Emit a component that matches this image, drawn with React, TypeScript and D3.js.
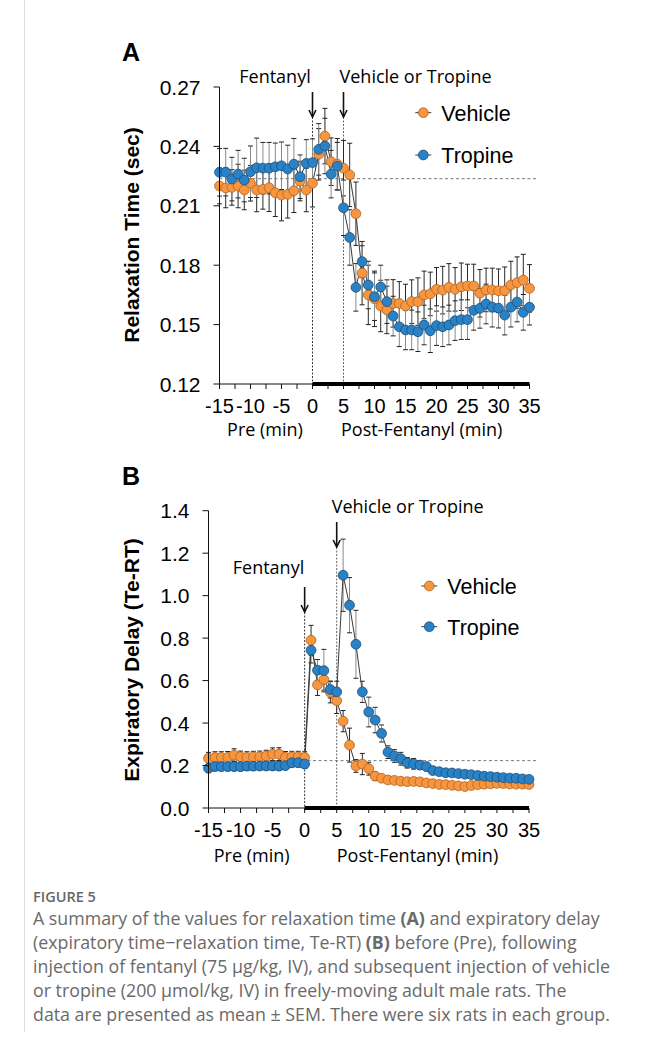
import React from 'react';
import * as d3 from 'd3';

// ---------- DATA ----------
const minutes = [-15, -14, -13, -12, -11, -10, -9, -8, -7, -6, -5, -4, -3, -2, -1, 0,
  1, 2, 3, 4, 5, 6, 7, 8, 9, 10, 11, 12, 13, 14, 15, 16, 17, 18, 19, 20,
  21, 22, 23, 24, 25, 26, 27, 28, 29, 30, 31, 32, 33, 34, 35];

// Panel A: Relaxation time (sec)
const relaxVehicle = [0.220, 0.219, 0.2193, 0.220, 0.218, 0.2214, 0.218, 0.2183, 0.2191, 0.2166, 0.2154, 0.2158, 0.2176, 0.2225, 0.218, 0.2214,
  0.236, 0.2452, 0.2323, 0.231, 0.229, 0.2256, 0.206, 0.176, 0.165, 0.163, 0.1594, 0.1574, 0.1607, 0.1607, 0.1594, 0.1616, 0.1616, 0.165, 0.1655, 0.1678,
  0.1674, 0.1688, 0.1678, 0.1691, 0.1695, 0.1695, 0.1658, 0.1675, 0.1675, 0.1671, 0.1671, 0.170, 0.1712, 0.1725, 0.1683];
const relaxVehicleSem = [0.009, 0.010, 0.009, 0.011, 0.010, 0.009, 0.011, 0.010, 0.012, 0.012, 0.013, 0.012, 0.011, 0.010, 0.011, 0.012,
  0.013, 0.014, 0.012, 0.013, 0.014, 0.016, 0.016, 0.016, 0.015, 0.014, 0.013, 0.012, 0.012, 0.011, 0.011, 0.011, 0.012, 0.012, 0.011, 0.011,
  0.012, 0.012, 0.011, 0.012, 0.011, 0.011, 0.012, 0.011, 0.011, 0.011, 0.012, 0.012, 0.013, 0.013, 0.012];
const relaxTropine = [0.2269, 0.227, 0.2235, 0.226, 0.223, 0.2272, 0.2292, 0.229, 0.229, 0.2297, 0.2302, 0.2286, 0.231, 0.2247, 0.2314, 0.2318,
  0.2385, 0.2402, 0.226, 0.230, 0.209, 0.194, 0.1688, 0.1818, 0.170, 0.1641, 0.169, 0.1616, 0.1543, 0.1489, 0.1473, 0.1473, 0.1464, 0.1498, 0.1469, 0.1495,
  0.1489, 0.1498, 0.152, 0.1525, 0.1525, 0.1572, 0.1582, 0.1604, 0.1588, 0.1583, 0.1548, 0.1588, 0.1614, 0.1562, 0.1588];
const relaxTropineSem = [0.012, 0.012, 0.011, 0.012, 0.011, 0.013, 0.015, 0.013, 0.013, 0.012, 0.012, 0.012, 0.013, 0.011, 0.012, 0.012,
  0.013, 0.014, 0.012, 0.012, 0.014, 0.014, 0.012, 0.008, 0.012, 0.012, 0.011, 0.011, 0.010, 0.010, 0.010, 0.010, 0.010, 0.010, 0.011, 0.010,
  0.010, 0.010, 0.010, 0.010, 0.010, 0.010, 0.010, 0.010, 0.010, 0.010, 0.010, 0.010, 0.010, 0.009, 0.009];

// Panel B: Expiratory delay (Te-RT)
const delayVehicle = [0.234, 0.238, 0.238, 0.238, 0.249, 0.241, 0.238, 0.241, 0.241, 0.245, 0.253, 0.254, 0.238, 0.241, 0.241, 0.238,
  0.790, 0.580, 0.605, 0.545, 0.505, 0.409, 0.296, 0.198, 0.207, 0.185, 0.150, 0.140, 0.132, 0.130, 0.126, 0.124, 0.125, 0.123, 0.118, 0.115,
  0.111, 0.110, 0.107, 0.104, 0.101, 0.106, 0.110, 0.112, 0.114, 0.116, 0.115, 0.113, 0.112, 0.112, 0.111];
const delayVehicleSem = [0.028, 0.027, 0.027, 0.028, 0.030, 0.027, 0.027, 0.026, 0.027, 0.027, 0.030, 0.030, 0.028, 0.026, 0.026, 0.027,
  0.070, 0.050, 0.050, 0.050, 0.060, 0.050, 0.080, 0.030, 0.050, 0.030, 0.020, 0.012, 0.012, 0.012, 0.012, 0.012, 0.012, 0.012, 0.012, 0.012,
  0.012, 0.012, 0.012, 0.012, 0.012, 0.012, 0.012, 0.012, 0.012, 0.012, 0.012, 0.012, 0.012, 0.012, 0.012];
const delayTropine = [0.187, 0.195, 0.195, 0.195, 0.195, 0.195, 0.197, 0.197, 0.198, 0.198, 0.198, 0.197, 0.200, 0.213, 0.213, 0.207,
  0.743, 0.649, 0.647, 0.558, 0.547, 1.096, 0.955, 0.771, 0.547, 0.452, 0.414, 0.351, 0.263, 0.245, 0.232, 0.213, 0.208, 0.202, 0.195, 0.176,
  0.171, 0.166, 0.165, 0.162, 0.159, 0.157, 0.153, 0.150, 0.148, 0.145, 0.143, 0.141, 0.140, 0.137, 0.135];
const delayTropineSem = [0.020, 0.020, 0.020, 0.020, 0.020, 0.020, 0.020, 0.020, 0.020, 0.020, 0.020, 0.020, 0.020, 0.020, 0.020, 0.020,
  0.060, 0.050, 0.100, 0.040, 0.050, 0.170, 0.130, 0.160, 0.050, 0.070, 0.060, 0.040, 0.030, 0.030, 0.030, 0.025, 0.025, 0.020, 0.020, 0.015,
  0.012, 0.012, 0.012, 0.012, 0.012, 0.012, 0.012, 0.012, 0.012, 0.012, 0.012, 0.012, 0.012, 0.012, 0.012];

const xTickValues = [-15, -10, -5, 0, 5, 10, 15, 20, 25, 30, 35];
const xTickLabels = ['-15', '-10', '-5', '0', '5', '10', '15', '20', '25', '30', '35'];
const xMinorTicks = [-15, -12.5, -10, -7.5, -5, -2.5, 0, 2.5, 5, 7.5, 10, 12.5, 15, 17.5, 20, 22.5, 25, 27.5, 30, 32.5, 35];
const yTicksA = [0.12, 0.15, 0.18, 0.21, 0.24, 0.27];
const yTicksB = [0, 0.2, 0.4, 0.6, 0.8, 1.0, 1.2, 1.4];
const seriesNames = ['Vehicle', 'Tropine'];
const baselineA = 0.2237;
const baselineB = 0.223;
const fentanylTime = 0;
const treatmentTime = 5;

const captionLines = [
  [{ t: 'A summary of the values for relaxation time ' }, { t: '(A)', b: true }, { t: ' and expiratory delay' }],
  [{ t: '(expiratory time\u2212relaxation time, Te-RT) ' }, { t: '(B)', b: true }, { t: ' before (Pre), following' }],
  [{ t: 'injection of fentanyl (75 \u03bcg/kg, IV), and subsequent injection of vehicle' }],
  [{ t: 'or tropine (200 \u03bcmol/kg, IV) in freely-moving adult male rats. The' }],
  [{ t: 'data are presented as mean \u00b1 SEM. There were six rats in each group.' }],
];

// ---------- STYLE ----------
const ORANGE = '#F7963F';
const ORANGE_STROKE = '#B0621F';
const BLUE = '#2A82C6';
const BLUE_STROKE = '#1B4E7A';
const ARIAL = '"Liberation Sans", Arial, sans-serif';
const CAL = '"Open Sans", sans-serif';
const ANN = 18;

type PanelProps = {
  letter: string;
  letterY: number;
  xRange: [number, number];
  yRange: [number, number];
  yDomain: [number, number];
  yTicks: number[];
  yFmt: (v: number) => string;
  yLabel: string;
  yLabelY: number;
  veh: number[]; vehSem: number[];
  tro: number[]; troSem: number[];
  baseline: number;
  fentArrow: [number, number];
  treatArrow: [number, number];
  fentText: [number, number];
  treatText: [number, number];
  legend: [number, number, number];
  xLabelY: number;
  preCenter: number;
  postCenter: number;
  subLabelY: number;
};

function Panel(p: PanelProps) {
  const x = d3.scaleLinear().domain([-15, 35]).range(p.xRange);
  const y = d3.scaleLinear().domain(p.yDomain).range(p.yRange);
  const y0 = p.yRange[0];
  const line = d3.line<number>().x((_, i) => x(minutes[i])).y((d) => y(d));
  const series = [
    { vals: p.veh, sem: p.vehSem, fill: ORANGE, stroke: ORANGE_STROKE, bar: '#2a2a2a' },
    { vals: p.tro, sem: p.troSem, fill: BLUE, stroke: BLUE_STROKE, bar: '#8a8a8a' },
  ];
  const r = 4.9;
  const arrow = (ax: number, top: number, bottom: number, key: string) => (
    <g key={key} stroke="#111" strokeWidth={1.6} fill="none">
      <line x1={ax} x2={ax} y1={top} y2={bottom} />
      <polyline points={`${ax - 3.5},${bottom - 7} ${ax},${bottom} ${ax + 3.5},${bottom - 7}`} />
    </g>
  );
  return (
    <g>
      <text x={122} y={p.letterY} fontFamily={ARIAL} fontWeight="bold" fontSize={25}>{p.letter}</text>
      {/* reference dashed line */}
      <line x1={p.xRange[0]} x2={538} y1={y(p.baseline)} y2={y(p.baseline)} stroke="#777" strokeWidth={1} strokeDasharray="3,2.5" />
      {/* vertical dotted markers */}
      <line x1={x(fentanylTime)} x2={x(fentanylTime)} y1={p.fentArrow[1]} y2={y0} stroke="#222" strokeWidth={0.9} strokeDasharray="2,1.5" />
      <line x1={x(treatmentTime)} x2={x(treatmentTime)} y1={p.treatArrow[1]} y2={y0} stroke="#555" strokeWidth={0.9} strokeDasharray="2,1.5" />
      {/* error bars */}
      {series.map((s, si) => (
        <g key={'eb' + si} stroke={s.bar} strokeWidth={1}>
          {s.vals.map((v, i) => {
            const cx = x(minutes[i]);
            const top = y(v + s.sem[i]);
            const bot = y(v - s.sem[i]);
            return (
              <g key={i}>
                <line x1={cx} x2={cx} y1={top} y2={bot} />
                <line x1={cx - 2.5} x2={cx + 2.5} y1={top} y2={top} stroke="#222" />
                <line x1={cx - 2.5} x2={cx + 2.5} y1={bot} y2={bot} stroke="#222" />
              </g>
            );
          })}
        </g>
      ))}
      {/* lines */}
      {series.map((s, si) => (
        <path key={'ln' + si} d={line(s.vals) || ''} fill="none" stroke="#3a3a3a" strokeWidth={1} />
      ))}
      {/* markers */}
      {series.map((s, si) => (
        <g key={'mk' + si}>
          {s.vals.map((v, i) => (
            <circle key={i} cx={x(minutes[i])} cy={y(v)} r={r} fill={s.fill} stroke={s.stroke} strokeWidth={0.8} />
          ))}
        </g>
      ))}
      {/* axes */}
      <line x1={p.xRange[0]} x2={p.xRange[0]} y1={p.yRange[1]} y2={y0} stroke="#111" strokeWidth={1} />
      {p.yTicks.map((t) => (
        <g key={'yt' + t}>
          <line x1={p.xRange[0] - 6} x2={p.xRange[0]} y1={y(t)} y2={y(t)} stroke="#111" strokeWidth={1} />
          <text x={p.xRange[0] - 19} y={y(t) + 7.5} textAnchor="end" fontFamily={ARIAL} fontSize={21}>{p.yFmt(t)}</text>
        </g>
      ))}
      <line x1={p.xRange[0]} x2={p.xRange[1]} y1={y0} y2={y0} stroke="#111" strokeWidth={1} />
      {xMinorTicks.map((t) => (
        <line key={'xm' + t} x1={x(t)} x2={x(t)} y1={y0} y2={y0 + 5} stroke="#111" strokeWidth={1} />
      ))}
      <line x1={x(0)} x2={x(35)} y1={y0} y2={y0} stroke="#000" strokeWidth={4} />
      {xTickValues.map((t, i) => (
        <text key={'xl' + t} x={x(t)} y={p.xLabelY} textAnchor="middle" fontFamily={ARIAL} fontSize={20}>{xTickLabels[i]}</text>
      ))}
      <text x={p.preCenter} y={p.subLabelY} textAnchor="middle" fontFamily={CAL} fontSize={ANN}>Pre (min)</text>
      <text x={p.postCenter} y={p.subLabelY} textAnchor="middle" fontFamily={CAL} fontSize={ANN}>Post-Fentanyl (min)</text>
      {/* y label */}
      <text transform={`translate(131,${p.yLabelY}) rotate(-90)`} textAnchor="middle" dominantBaseline="central"
        fontFamily={ARIAL} fontWeight="bold" fontSize={21}>{p.yLabel}</text>
      {/* annotations */}
      {arrow(x(fentanylTime), p.fentArrow[0], p.fentArrow[1], 'a1')}
      {arrow(x(treatmentTime), p.treatArrow[0], p.treatArrow[1], 'a2')}
      <text x={p.fentText[0]} y={p.fentText[1]} textAnchor="middle" fontFamily={CAL} fontSize={ANN}>Fentanyl</text>
      <text x={p.treatText[0]} y={p.treatText[1]} fontFamily={CAL} fontSize={ANN}>Vehicle or Tropine</text>
      {/* legend */}
      {seriesNames.map((n, i) => {
        const ly = p.legend[1] + i * p.legend[2];
        const s = series[i];
        return (
          <g key={'lg' + n}>
            <line x1={p.legend[0] - 8} x2={p.legend[0] + 8} y1={ly} y2={ly} stroke="#3a3a3a" strokeWidth={1} />
            <circle cx={p.legend[0]} cy={ly} r={r} fill={s.fill} stroke={s.stroke} strokeWidth={0.8} />
            <text x={p.legend[0] + 18} y={ly + 7.8} fontFamily={ARIAL} fontSize={21.5}>{n}</text>
          </g>
        );
      })}
    </g>
  );
}

export default function App() {
  return (
    <svg width={648} height={1048} viewBox="0 0 648 1048" style={{ position: 'absolute', left: 0, top: 0, background: '#fff' }}>
      <rect x={0} y={0} width={648} height={1048} fill="#fff" />
      <line x1={24.5} x2={24.5} y1={0} y2={1032} stroke="#dcdcdc" strokeWidth={1} />
      <Panel
        letter="A" letterY={61}
        xRange={[219.5, 529.5]} yRange={[384, 87]} yDomain={[0.12, 0.27]}
        yTicks={yTicksA} yFmt={(v) => v.toFixed(2)} yLabel="Relaxation Time (sec)" yLabelY={235}
        veh={relaxVehicle} vehSem={relaxVehicleSem} tro={relaxTropine} troSem={relaxTropineSem}
        baseline={baselineA}
        fentArrow={[92, 117]} treatArrow={[92, 117]}
        fentText={[275, 83]} treatText={[339.5, 83]}
        legend={[423.3, 112.7, 42.3]}
        xLabelY={413} preCenter={265} postCenter={421.7} subLabelY={436}
      />
      <Panel
        letter="B" letterY={485}
        xRange={[208.5, 529]} yRange={[808, 510.7]} yDomain={[0, 1.4]}
        yTicks={yTicksB} yFmt={(v) => v.toFixed(1)} yLabel="Expiratory Delay (Te-RT)" yLabelY={660}
        veh={delayVehicle} vehSem={delayVehicleSem} tro={delayTropine} troSem={delayTropineSem}
        baseline={baselineB}
        fentArrow={[587, 612]} treatArrow={[522, 547]}
        fentText={[268.5, 574]} treatText={[331.7, 512.7]}
        legend={[429.3, 586, 40.7]}
        xLabelY={837} preCenter={251.7} postCenter={417.5} subLabelY={861.5}
      />
      <text x={33} y={902} fontFamily='"Open Sans", sans-serif' fontWeight={600} fontSize={14.5} fill="#666">FIGURE 5</text>
      {captionLines.map((ln, i) => (
        <text key={'c' + i} x={33} y={924.5 + i * 24} fontFamily='"Open Sans", sans-serif' fontSize={17.8} fill="#6a6a6a">
          {ln.map((seg, j) => (
            <tspan key={j} fontWeight={(seg as any).b ? 700 : 400}>{seg.t}</tspan>
          ))}
        </text>
      ))}
    </svg>
  );
}
